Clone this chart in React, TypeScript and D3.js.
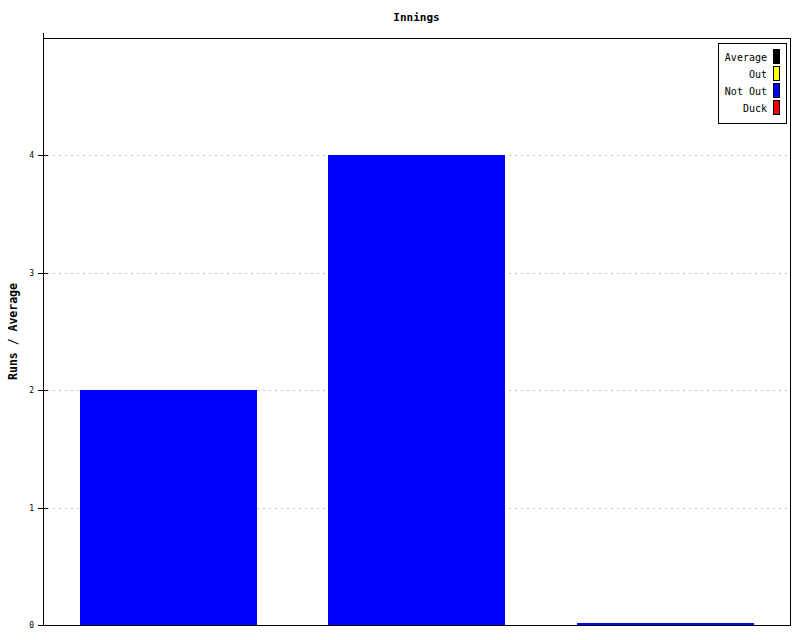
import { useEffect, useRef } from "react"
import * as d3 from "d3"

const innings = ["1", "2", "3"]
const runs = [2, 4, 0]
const yTicks = [0, 1, 2, 3, 4]
const legendLabels = ["Average", "Out", "Not Out", "Duck"]
const legendColors = ["#000000", "#ffff00", "#0000ff", "#ff0000"]

const width = 800
const height = 640
const margin = { top: 38, right: 10, bottom: 15, left: 43 }
const font = "'DejaVu Sans Mono', 'Liberation Mono', monospace"

export default function App() {
  const svgRef = useRef<SVGSVGElement>(null)

  useEffect(() => {
    const svg = d3.select(svgRef.current)
    svg.selectAll("*").remove()

    const x0 = margin.left
    const x1 = width - margin.right
    const y0 = height - margin.bottom
    const y1 = margin.top

    const x = d3.scaleBand<string>().domain(innings).range([x0, x1]).paddingInner(0.293).paddingOuter(0.1466)
    const y = d3.scaleLinear().domain([0, 5]).range([y0, y1])

    svg.append("rect").attr("width", width).attr("height", height).attr("fill", "#fff")

    // grid lines
    svg
      .append("g")
      .selectAll("line")
      .data(yTicks.filter((t) => t > 0))
      .enter()
      .append("line")
      .attr("x1", x0 + 4)
      .attr("x2", x1)
      .attr("y1", (d) => Math.round(y(d)) + 0.5)
      .attr("y2", (d) => Math.round(y(d)) + 0.5)
      .attr("stroke", "#c0c0c0")
      .attr("stroke-dasharray", "2,4")

    // bars
    svg
      .append("g")
      .selectAll("rect")
      .data(runs)
      .enter()
      .append("rect")
      .attr("x", (_, i) => Math.round(x(innings[i])!))
      .attr("width", Math.round(x.bandwidth()) + 1)
      .attr("y", (d) => Math.min(Math.round(y(d)), y0 - 2))
      .attr("height", (d) => Math.max(2, y0 - Math.round(y(d))))
      .attr("fill", "#0000ff")

    // frame
    const frame = svg.append("g").attr("stroke", "#000").attr("fill", "none")
    frame.append("line").attr("x1", x0 + 0.5).attr("x2", x0 + 0.5).attr("y1", y1 - 5).attr("y2", y0 + 1)
    frame.append("line").attr("x1", x0).attr("x2", x1 + 1).attr("y1", y1 + 0.5).attr("y2", y1 + 0.5)
    frame.append("line").attr("x1", x1 + 0.5).attr("x2", x1 + 0.5).attr("y1", y1).attr("y2", y0 + 1)
    frame.append("line").attr("x1", x0).attr("x2", x1 + 1).attr("y1", y0 + 0.5).attr("y2", y0 + 0.5)

    // y ticks
    const ticks = svg.append("g").selectAll("g").data(yTicks).enter().append("g")
    ticks
      .append("line")
      .attr("x1", x0 - 5)
      .attr("x2", x0 + 5)
      .attr("y1", (d) => Math.round(y(d)) + 0.5)
      .attr("y2", (d) => Math.round(y(d)) + 0.5)
      .attr("stroke", "#000")
    ticks
      .append("text")
      .attr("x", x0 - 9)
      .attr("y", (d) => Math.round(y(d)) + 3)
      .attr("text-anchor", "end")
      .attr("font-family", font)
      .attr("font-size", "8px")
      .attr("fill", "#000")
      .text((d) => d)

    // title
    svg
      .append("text")
      .attr("x", (x0 + x1) / 2)
      .attr("y", 21)
      .attr("text-anchor", "middle")
      .attr("font-family", font)
      .attr("font-weight", "bold")
      .attr("font-size", "11px")
      .text("Innings")

    // y label
    svg
      .append("text")
      .attr("transform", `translate(17,${(y0 + y1) / 2}) rotate(-90)`)
      .attr("text-anchor", "middle")
      .attr("font-family", font)
      .attr("font-weight", "bold")
      .attr("font-size", "11.5px")
      .text("Runs / Average")

    // legend
    const lg = svg.append("g")
    lg.append("rect")
      .attr("x", 718.5)
      .attr("y", 43.5)
      .attr("width", 68)
      .attr("height", 80)
      .attr("fill", "#fff")
      .attr("stroke", "#000")
    const items = lg.selectAll("g.item").data(legendLabels).enter().append("g").attr("class", "item")
    items
      .append("rect")
      .attr("x", 773.5)
      .attr("y", (_, i) => 49.5 + i * 17)
      .attr("width", 6)
      .attr("height", 14)
      .attr("fill", (_, i) => legendColors[i])
      .attr("stroke", "#000")
    items
      .append("text")
      .attr("x", 767)
      .attr("y", (_, i) => 60.5 + i * 17)
      .attr("text-anchor", "end")
      .attr("font-family", font)
      .attr("font-size", "10px")
      .attr("fill", "#000")
      .text((d) => d)
  }, [])

  return (
    <svg
      ref={svgRef}
      width={width}
      height={height}
      style={{ position: "absolute", left: 0, top: 0, display: "block" }}
    />
  )
}
